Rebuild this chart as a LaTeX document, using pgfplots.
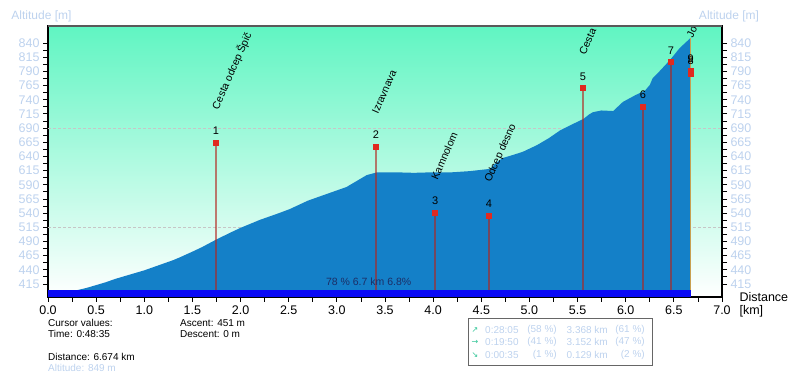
\documentclass[border=0pt]{standalone}
\usepackage{pgfplots}
\pgfplotsset{compat=1.18}
\usetikzlibrary{calc}
\usepackage{fontspec}
\setmainfont{Liberation Sans}
\newfontfamily\djv{DejaVu Sans}
\definecolor{prof}{HTML}{1480C8}
\definecolor{strip}{HTML}{0A0AF5}
\definecolor{mint}{HTML}{60F5C2}
\definecolor{lblue}{HTML}{BDD2EE}
\definecolor{wpred}{HTML}{E02A20}
\definecolor{navy}{HTML}{1C2E66}
\definecolor{arrowg}{HTML}{2EC495}
\definecolor{tan}{HTML}{C8A050}
\pgfplotstableread{
x y
0 392
0 398
0.28 400
0.3 404
0.4 408
0.5 413
0.6 418
0.7 424
0.8 429
0.9 434
1.0 439
1.1 445
1.2 451
1.3 457
1.37 462
1.5 472
1.6 480
1.755 494
1.9 506
2.0 514
2.2 528
2.4 540
2.51 547
2.7 562
2.9 574
3.1 586
3.2 596
3.31 607
3.42 612
3.6 612
3.8 611
4.0 612
4.2 612
4.38 614
4.59 618
4.65 628
4.72 637
4.8 641
4.93 648
5.08 660
5.2 672
5.32 686
5.45 697
5.56 706
5.62 714
5.66 718
5.75 721
5.87 720
5.92 728
5.97 736
6.1 748
6.2 756
6.25 766
6.28 778
6.35 790
6.46 810
6.56 831
6.674 849
6.674 392
}\profile
\pgfplotstableread{
x y
1.745 664
3.405 657
4.02 540
4.58 535
5.555 760
6.18 727
6.47 806
6.674 786
6.674 791
}\wpts
\begin{document}
\begin{tikzpicture}[x=1pt,y=1pt]
\useasboundingbox (0,0) rectangle (800,374);
\begin{axis}[
  at={(48pt,77pt)}, anchor=south west, scale only axis,
  width=674pt, height=271pt,
  xmin=0, xmax=7, ymin=392, ymax=870,
  axis background/.style={shade, top color=mint, bottom color=white},
  xtick={0,0.5,...,7}, minor x tick num=1,
  ytick={415,440,...,840}, minor y tick num=1,
  tick align=outside, tick pos=left,
  major tick length=5pt, minor tick length=5pt,
  tick style={black, line width=0.8pt},
  axis line style={black, line width=1.2pt},
  /pgf/number format/assume math mode=true,
  xticklabel style={font=\fontsize{12.5}{13}\selectfont, /pgf/number format/.cd, fixed, fixed zerofill, precision=1},
  yticklabel style={font=\fontsize{12.5}{13}\selectfont, color=lblue, /pgf/number format/.cd, int detect},
  extra y ticks={515,690}, extra y tick labels={},
  extra y tick style={grid=major, major grid style={densely dashed, gray!45, line width=0.5pt}, major tick length=0pt},
]
\addplot[fill=prof, draw=none] table {\profile} --cycle;
\addplot[ycomb, draw=wpred!80!black, draw opacity=0.6, line width=1.3pt, mark=square*, mark size=2.3pt, mark options={fill=wpred, draw=wpred, opacity=1, draw opacity=1}] table {\wpts};
\addplot[tan, line width=1pt] coordinates {(6.674,392) (6.674,849)};
\addplot[fill=strip, draw=none] coordinates {(0,392) (0,404) (6.674,404) (6.674,392)} --cycle;
\node[font=\fontsize{10.5}{11}\selectfont, navy] at (axis cs:3.33,406) [anchor=south] {78 \% 6.7 km 6.8\%};
\begin{scope}
\clip (rel axis cs:0,0) rectangle (rel axis cs:1,1);
\foreach \xx/\yy/\lab in {1.745/664/1, 3.405/657/2, 4.02/540/3, 4.58/535/4, 5.555/760/5, 6.18/727/6, 6.47/806/7, 6.674/787/8, 6.674/791/9}{
  \edef\tmp{\noexpand\node[font=\noexpand\fontsize{11}{12}\noexpand\selectfont] at (axis cs:\xx,\yy) [yshift=12pt] {\lab};}\tmp
}
\foreach \xx/\yy/\lab in {1.745/664/Cesta odcep Špič, 3.405/657/Izravnava, 4.02/540/Kamnolom, 4.58/535/Odcep desno, 5.555/760/Cesta, 6.674/791/Jo}{
  \edef\tmp{\noexpand\node[font=\noexpand\fontsize{10.5}{11}\noexpand\selectfont, rotate=66, anchor=west, inner sep=0pt] at ($(axis cs:\xx,\yy)+(-1pt,34pt)$) {\lab};}\tmp
}
\end{scope}
\end{axis}
\begin{axis}[
  at={(48pt,77pt)}, anchor=south west, scale only axis,
  width=674pt, height=271pt,
  xmin=0, xmax=7, ymin=392, ymax=870,
  axis y line*=right, axis x line=none,
  ytick={415,440,...,840}, minor y tick num=1,
  tick align=outside,
  major tick length=5pt, minor tick length=5pt,
  tick style={black, line width=0.8pt},
  axis line style={black, line width=1.2pt},
  /pgf/number format/assume math mode=true,
  yticklabel style={font=\fontsize{12.5}{13}\selectfont, color=lblue, /pgf/number format/.cd, int detect},
]
\addplot[draw=none] coordinates {(0,500)};
\end{axis}
\draw[line width=2pt, black!65] (48,348) -- (722,348);
\node[font=\fontsize{12}{13}\selectfont, lblue] at (41.5,358) {Altitude [m]};
\node[font=\fontsize{12}{13}\selectfont, lblue] at (729,358) {Altitude [m]};
\node[font=\fontsize{12.5}{13}\selectfont, anchor=west] at (736,77) {Distance};
\node[font=\fontsize{12.5}{13}\selectfont, anchor=west] at (736,63) {[km]};
\begin{scope}[every node/.style={font=\fontsize{10}{11}\selectfont, anchor=west, inner sep=0pt}]
\node at (48,51) {Cursor values:};
\node at (48,40) {Time: 0:48:35};
\node at (48,17) {Distance: 6.674 km};
\node[lblue] at (48,6) {Altitude: 849 m};
\node at (180,51) {Ascent: 451 m};
\node at (180,40) {Descent: 0 m};
\end{scope}
\draw[line width=0.9pt, black!60] (468,9) rectangle (652,56);
\begin{scope}[every node/.style={font=\fontsize{10}{11}\selectfont, lblue, inner sep=0pt}]
\node[arrowg, font=\djv\fontsize{8}{9}\selectfont] at (475,44) {↗};
\node[arrowg, font=\djv\fontsize{8}{9}\selectfont] at (475,32) {→};
\node[arrowg, font=\djv\fontsize{8}{9}\selectfont] at (475,19) {↘};
\node[anchor=west] at (485,44) {0:28:05};
\node[anchor=west] at (485,32) {0:19:50};
\node[anchor=west] at (485,19) {0:00:35};
\node[anchor=east] at (557,44) {(58 \%)};
\node[anchor=east] at (557,32) {(41 \%)};
\node[anchor=east] at (557,19) {(1 \%)};
\node[anchor=east] at (608,44) {3.368 km};
\node[anchor=east] at (608,32) {3.152 km};
\node[anchor=east] at (608,19) {0.129 km};
\node[anchor=east] at (645,44) {(61 \%)};
\node[anchor=east] at (645,32) {(47 \%)};
\node[anchor=east] at (645,19) {(2 \%)};
\end{scope}
\end{tikzpicture}
\end{document}
